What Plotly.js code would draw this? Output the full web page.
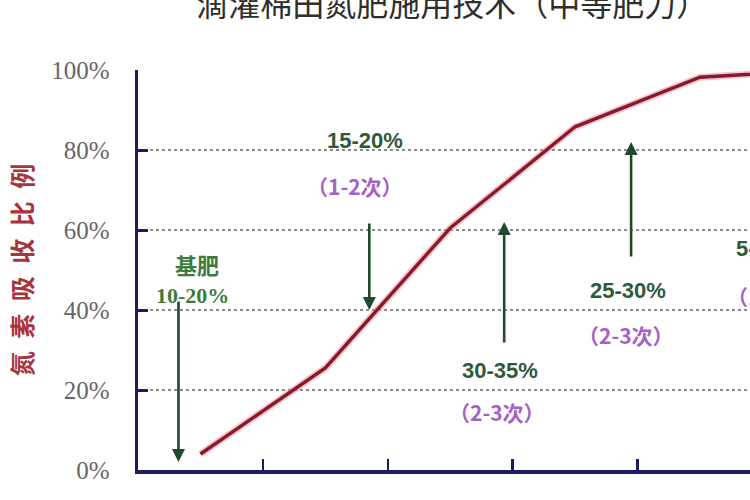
<!DOCTYPE html>
<html>
<head>
<meta charset="utf-8">
<script src="https://cdn.plot.ly/plotly-3.0.1.min.js"></script>
<style>
  html, body { margin: 0; padding: 0; background: #ffffff; }
  #chart { width: 750px; height: 500px; }
</style>
</head>
<body>
<div id="chart"></div>
<script>
// growth stages (labels are cut off in the picture, so they stay hidden)
const stages = ['苗期', '蕾期', '初花期', '盛花期', '盛铃期', '吐絮期'];
// cumulative nitrogen uptake, %
const uptake = [4, 25.5, 60.5, 85.8, 98.2, 100];

const yTicks = [0, 20, 40, 60, 80, 100];
const yTickText = yTicks.map(v => v + '%');

// application notes: share of N, number of top-dressings
const doseText = ['15-20%', '30-35%', '25-30%', '5-10%'];
const timesText = ['（1-2次）', '（2-3次）', '（2-3次）', '（1次）'];

const NAVY = '#1c1c5c';
const ARROW = '#1f4a2b';
const GREEN_TXT = '#2f5a3a';
const PURPLE = '#a462c6';

const traces = [
  { // soft pink halo under the curve
    x: stages, y: uptake, mode: 'lines', hoverinfo: 'skip',
    line: { color: 'rgba(240,150,165,0.55)', width: 7 }
  },
  {
    x: stages, y: uptake, mode: 'lines', name: '氮素吸收比例',
    line: { color: '#861b2b', width: 3.4 }
  }
];

function arrow(x, yFrom, yTo) {
  return {
    x: x, y: yTo, ax: x, ay: yFrom,
    xref: 'x', yref: 'y', axref: 'x', ayref: 'y',
    text: '', showarrow: true,
    arrowhead: 2, arrowsize: 1, arrowwidth: 2.6, arrowcolor: ARROW
  };
}

function label(x, y, text, font, anchor) {
  return {
    x: x, y: y, xref: 'x', yref: 'y', text: text, showarrow: false,
    xanchor: anchor || 'center', yanchor: 'middle', font: font
  };
}

const doseFont = { family: 'Liberation Sans, Arial, sans-serif', size: 22, color: GREEN_TXT, weight: 'bold' };
const timesFont = { family: 'Noto Sans CJK SC, Liberation Sans, sans-serif', size: 21, color: PURPLE, weight: 'bold' };
const baseFont = { family: 'Liberation Serif, Noto Sans CJK SC, serif', size: 22, color: '#3f7a3f', weight: 'bold' };

const annotations = [
  arrow(-0.176, 42.5, 2),
  arrow(1.352, 62, 40),
  arrow(2.432, 31.5, 62),
  arrow(3.448, 53, 82),

  label(-0.03, 50.8, '基肥', baseFont),
  label(-0.064, 43.6, '10-20%', baseFont),

  label(1.32, 82.5, doseText[0], doseFont),
  label(1.24, 71, timesText[0], timesFont),
  label(2.4, 25, doseText[1], doseFont),
  label(2.376, 14.5, timesText[1], timesFont),
  label(3.424, 45, doseText[2], doseFont),
  label(3.408, 33.8, timesText[2], timesFont),
  label(4.27, 55.5, doseText[3], doseFont, 'left'),
  label(4.2, 43.5, timesText[3], timesFont, 'left')
];

const layout = {
  width: 750, height: 500,
  margin: { l: 138, r: 0, t: 70, b: 30 },
  paper_bgcolor: '#ffffff', plot_bgcolor: '#ffffff',
  showlegend: false,
  title: {
    text: '滴灌棉田氮肥施用技术（中等肥力）',
    x: 0.603, xref: 'container', xanchor: 'center',
    y: 0.99, yref: 'container', yanchor: 'middle',
    font: { family: 'Noto Sans CJK SC, sans-serif', size: 32, color: '#2e2e2e' }
  },
  xaxis: {
    type: 'category', range: [-0.5, 4.4],
    showline: true, linecolor: NAVY, linewidth: 3.5,
    ticks: 'inside', tickson: 'boundaries', ticklen: 11, tickwidth: 2.5, tickcolor: NAVY,
    showticklabels: false, showgrid: false, zeroline: false
  },
  yaxis: {
    range: [0, 100], tickvals: yTicks, ticktext: yTickText,
    showline: true, linecolor: NAVY, linewidth: 3.5,
    ticks: 'inside', ticklen: 10, tickwidth: 3, tickcolor: NAVY,
    ticklabelstandoff: 20,
    tickfont: { family: 'Liberation Serif, serif', size: 25, color: '#666666' },
    showgrid: true, gridcolor: '#8a8a8a', gridwidth: 1.5, griddash: 'dot',
    zeroline: false,
    title: {
      text: '氮\u2002素\u2002吸\u2002收\u2002比\u2002例', standoff: 12,
      font: { family: 'Noto Sans CJK SC, serif', size: 25, color: '#a8343c', weight: 'bold' }
    }
  },
  annotations: annotations
};

Plotly.newPlot('chart', traces, layout, { displayModeBar: false, staticPlot: true });
</script>
</body>
</html>
